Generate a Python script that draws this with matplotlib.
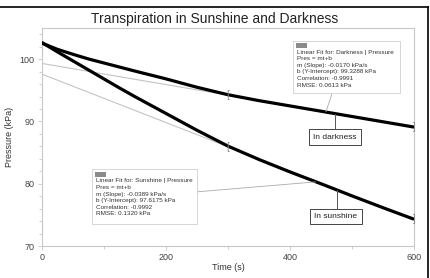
import matplotlib
matplotlib.use("Agg")
import matplotlib.pyplot as plt
from matplotlib.patches import Rectangle
from matplotlib.lines import Line2D
from matplotlib.ticker import MultipleLocator

plt.rcParams['font.family'] = ['Liberation Sans', 'DejaVu Sans']

# data
time_s = [0, 25, 50, 75, 100, 125, 150, 200, 250, 300, 350, 400, 450, 500, 550, 600]
darkness = [102.6, 101.6, 100.8, 100.05, 99.4, 98.75, 98.1, 96.85, 95.5, 94.3,
            93.35, 92.5, 91.65, 90.8, 89.95, 89.1]
sunshine = [102.7, 101.2, 99.75, 98.3, 96.85, 95.4, 94.0, 91.3, 88.6, 86.05,
            83.9, 81.9, 80.0, 78.05, 76.15, 74.3]

fit_range = [300, 600]
dark_fit = {'m': -0.0170, 'b': 99.3288, 'r': -0.9991, 'rmse': 0.0613}
sun_fit = {'m': -0.0389, 'b': 97.6175, 'r': -0.9992, 'rmse': 0.1320}

fig = plt.figure(figsize=(4.3, 2.78), dpi=100)
ax = fig.add_axes([0.097, 0.115, 0.866, 0.784])

frame = '#c8c8c8'
for s in ax.spines.values():
    s.set_color(frame)
    s.set_linewidth(0.8)

# fit lines (thin grey, whole range)
for f in (dark_fit, sun_fit):
    ax.plot([0, 600], [f['b'], f['b'] + f['m'] * 600], color='#c4c4c4', lw=0.8, zorder=2)

ax.plot(time_s, darkness, color='black', lw=2.3, zorder=3, solid_capstyle='butt')
ax.plot(time_s, sunshine, color='black', lw=2.3, zorder=3, solid_capstyle='butt')

# fit range brackets
for f in (dark_fit, sun_fit):
    for t, ch in zip(fit_range, '[]'):
        ax.text(t, f['b'] + f['m'] * t, ch, fontsize=7, color='#888888',
                ha='center', va='center', zorder=4)

ax.set_xlim(0, 600)
ax.set_ylim(70, 105)
ax.xaxis.set_major_locator(MultipleLocator(200))
ax.xaxis.set_minor_locator(MultipleLocator(100))
ax.yaxis.set_major_locator(MultipleLocator(10))
ax.yaxis.set_minor_locator(MultipleLocator(2))
ax.tick_params(which='major', length=3, width=0.6, color=frame, labelsize=6.5,
               labelcolor='#444444', pad=2)
ax.tick_params(which='minor', length=2, width=0.6, color=frame)

ax.set_xlabel('Time (s)', fontsize=6.5, color='#333333', labelpad=1)
ax.set_ylabel('Pressure (kPa)', fontsize=6.5, color='#333333', labelpad=4)
fig.text(0.5, 0.932, 'Transpiration in Sunshine and Darkness', fontsize=10,
         ha='center', va='center', color='#222222')


def fit_box(x0, x1, y0, y1, name, f):
    ax.add_patch(Rectangle((x0, y0), x1 - x0, y1 - y0, fc='white', ec='#d0d0d0',
                           lw=0.6, zorder=5))
    ax.add_patch(Rectangle((x0 + 5, y1 - 1.15), 17, 0.75, fc='#8a8a8a', ec='none', zorder=6))
    lines = [f'Linear Fit for: {name} | Pressure', 'Pres = mt+b',
             f"m (Slope): {f['m']:.4f} kPa/s",
             f"b (Y-Intercept): {f['b']:.4f} kPa",
             f"Correlation: {f['r']:.4f}",
             f"RMSE: {f['rmse']:.4f} kPa"]
    ax.text(x0 + 6, y1 - 1.45, '\n'.join(lines), fontsize=4.6, color='#333333',
            ha='left', va='top', linespacing=1.4, zorder=6)


def label_box(xc, yc, text):
    ax.text(xc, yc, text, fontsize=6, color='#222222', ha='center', va='center',
            zorder=6, bbox=dict(boxstyle='square,pad=0.5', fc='white', ec='#444444', lw=0.7))


# darkness annotations
ax.plot([468, 458], [94.5, 91.6], color='#aaaaaa', lw=0.6, zorder=4)
fit_box(405, 578, 94.5, 103.0, 'Darkness', dark_fit)
ax.plot([473, 473], [91.2, 88.9], color='#555555', lw=0.7, zorder=4)
label_box(472, 87.5, 'In darkness')

# sunshine annotations
ax.plot([250, 441], [78.7, 80.3], color='#aaaaaa', lw=0.6, zorder=4)
fit_box(81, 250, 73.6, 82.3, 'Sunshine', sun_fit)
ax.plot([475, 475], [79.0, 76.0], color='#555555', lw=0.7, zorder=4)
label_box(474, 74.7, 'In sunshine')

# screenshot border on top and right
fig.add_artist(Line2D([0, 0.996], [0.975, 0.975], color='black', lw=1.2))
fig.add_artist(Line2D([0.996, 0.996], [0, 0.975], color='black', lw=1.2))

fig.savefig('out.png', dpi=100)
